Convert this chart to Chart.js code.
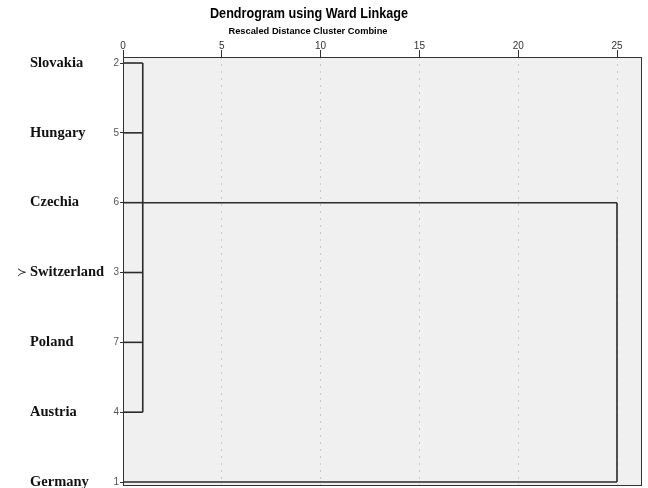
<!DOCTYPE html>
<html>
<head>
<meta charset="utf-8">
<script src="https://cdn.jsdelivr.net/npm/chart.js@4/dist/chart.umd.min.js"></script>
<style>
html,body{margin:0;padding:0;background:#fff;}
#wrap{width:648px;height:488px;position:relative;}
</style>
</head>
<body>
<div id="wrap"><canvas id="c" width="648" height="488"></canvas></div>
<script>
// ---- data ----
const titleText = 'Dendrogram using Ward Linkage';
const subtitleText = 'Rescaled Distance Cluster Combine';
const leaves = ['Slovakia', 'Hungary', 'Czechia', 'Switzerland', 'Poland', 'Austria', 'Germany'];
const caseIds = [2, 5, 6, 3, 7, 4, 1];
const xTickValues = [0, 5, 10, 15, 20, 25];
// distance at which each leaf's horizontal line ends
const leafEnd = [1, 1, 1, 1, 1, 1, 25];
// merges: rescaled distance, first and last row joined, row of outgoing cluster line, distance it runs to
const mergeDist = [1, 25];
const mergeTop = [0, 2];
const mergeBottom = [5, 6];
const mergeOutRow = [2, null];
const mergeOutTo = [25, null];
const markedLeaf = 'Switzerland';

const lineColor = '#2a2a2a';
const datasets = [];
function seg(x1, y1, x2, y2) {
  datasets.push({
    data: [{x: x1, y: y1}, {x: x2, y: y2}],
    borderColor: lineColor, borderWidth: 1.6, pointRadius: 0, fill: false, tension: 0
  });
}
leaves.forEach((n, i) => seg(0, i, leafEnd[i], i));
mergeDist.forEach((d, k) => {
  seg(d, mergeTop[k], d, mergeBottom[k]);
  if (mergeOutRow[k] !== null) seg(d, mergeOutRow[k], mergeOutTo[k], mergeOutRow[k]);
});

function fitText(ctx, text, cx, cy, width) {
  const w = ctx.measureText(text).width;
  ctx.save();
  ctx.translate(cx, cy);
  ctx.scale(width / w, 1);
  ctx.fillText(text, 0, 0);
  ctx.restore();
}

const frame = {
  id: 'frame',
  beforeDraw(chart) {
    const a = chart.chartArea, ctx = chart.ctx;
    ctx.save();
    ctx.fillStyle = '#f0f0f0';
    ctx.fillRect(a.left, a.top, a.right - a.left, a.bottom - a.top);
    ctx.restore();
  },
  afterDraw(chart) {
    const a = chart.chartArea, ctx = chart.ctx;
    ctx.save();
    ctx.strokeStyle = '#333';
    ctx.lineWidth = 1;
    ctx.strokeRect(Math.round(a.left) + 0.5, Math.round(a.top) + 0.5, Math.round(a.right - a.left) - 1, Math.round(a.bottom - a.top) - 1);
    // titles
    ctx.fillStyle = '#000';
    ctx.textAlign = 'center';
    ctx.textBaseline = 'middle';
    ctx.font = 'bold 15px "Liberation Sans", Arial, sans-serif';
    fitText(ctx, titleText, 309, 14, 198);
    ctx.font = 'bold 9.5px "Liberation Sans", Arial, sans-serif';
    fitText(ctx, subtitleText, 308, 31, 159);
    // marker in front of the marked leaf
    const ys = chart.scales.names;
    const idx = leaves.indexOf(markedLeaf);
    ctx.font = '12px "DejaVu Sans", sans-serif';
    ctx.fillStyle = '#333';
    ctx.textAlign = 'left';
    ctx.fillText('\u227B', 17, ys.getPixelForValue(idx));
    ctx.restore();
  }
};

const rowTicks = s => { s.ticks = leaves.map((_, i) => ({value: i})); };
const noPad = s => { s.paddingTop = 0; s.paddingBottom = 0; s.paddingLeft = 0; s.paddingRight = 0; };

new Chart(document.getElementById('c'), {
  type: 'line',
  data: {datasets},
  options: {
    responsive: false,
    animation: false,
    events: [],
    layout: {padding: {top: 37, left: 30, right: 6, bottom: 2}},
    plugins: {legend: {display: false}, tooltip: {enabled: false}, title: {display: false}},
    scales: {
      x: {
        type: 'linear', position: 'top', min: 0, max: 26.265,
        afterBuildTicks: s => { s.ticks = xTickValues.map(v => ({value: v})); },
        afterFit: s => { s.height = 20; noPad(s); },
        ticks: {color: '#333', font: {family: '"Liberation Sans", Arial, sans-serif', size: 10}, padding: -2, maxRotation: 0},
        grid: {
          color: c => (c.tick && c.tick.value === 0) ? 'rgba(0,0,0,0)' : '#c8c8c8',
          lineWidth: 1, drawTicks: true, tickLength: 7,
          tickColor: '#333', tickBorderDash: [], tickWidth: 1
        },
        border: {display: false, dash: [2, 5]}
      },
      y: {
        type: 'linear', position: 'left', reverse: true, min: -0.086, max: 6.057, weight: 1,
        afterBuildTicks: rowTicks,
        afterFit: s => { s.width = 15; noPad(s); },
        ticks: {callback: v => caseIds[v], color: '#555', font: {family: '"Liberation Sans", Arial, sans-serif', size: 10}, padding: 1},
        grid: {drawOnChartArea: false, drawTicks: true, tickLength: 3, color: '#333'},
        border: {display: false}
      },
      names: {
        type: 'linear', position: 'left', reverse: true, min: -0.086, max: 6.057, weight: 2,
        afterBuildTicks: rowTicks,
        afterFit: s => { s.width = 78; noPad(s); },
        ticks: {callback: v => leaves[v], color: '#111', crossAlign: 'far', padding: 0,
          font: {family: '"Liberation Serif", "Times New Roman", serif', size: 14.5, weight: 'bold'}},
        grid: {display: false, drawTicks: false},
        border: {display: false}
      }
    }
  },
  plugins: [frame]
});
</script>
</body>
</html>
